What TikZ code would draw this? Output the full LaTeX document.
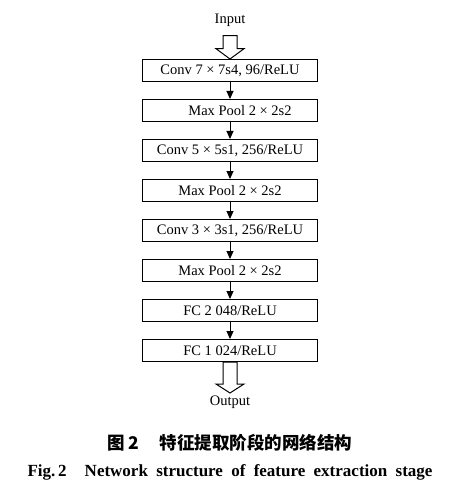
\documentclass[tikz,border=0pt]{standalone}
\usepackage{fontspec}
\setmainfont{Liberation Serif}
\newfontfamily\cjk{Noto Sans CJK SC}
\usetikzlibrary{arrows.meta,calc}
\tikzset{
  layer/.style={draw=black,line width=1pt,minimum width=175.4pt,minimum height=22pt,inner sep=0pt,font=\fontsize{14.5}{16}\selectfont},
  flow/.style={line width=1pt,-{Triangle[length=8pt,width=7pt]}},
  hollow/.style={draw=black,line width=1pt,fill=white,line join=miter},
  lbl/.style={inner sep=0pt,font=\fontsize{14.5}{16}\selectfont}
}
\begin{document}
\begin{tikzpicture}[x=1pt,y=-1pt]
\useasboundingbox (0,0) rectangle (467,497);
\node[lbl] (in) at (230,20) {Input};
\node[layer] (b1) at (230,70.5) {Conv 7 × 7s4, 96/ReLU};
\node[layer] (b2) at (230,110.5) {\hspace*{20pt}Max Pool 2 × 2s2};
\node[layer] (b3) at (230,150.5) {Conv 5 × 5s1, 256/ReLU};
\node[layer] (b4) at (230,190.5) {Max Pool 2 × 2s2};
\node[layer] (b5) at (230,230.5) {Conv 3 × 3s1, 256/ReLU};
\node[layer] (b6) at (230,270.5) {Max Pool 2 × 2s2};
\node[layer] (b7) at (230,310.5) {FC 2 048/ReLU};
\node[layer] (b8) at (230,350.5) {FC 1 024/ReLU};
\node[lbl] (out) at (230,402) {Output};
\foreach \a/\b in {b1/b2,b2/b3,b3/b4,b4/b5,b5/b6,b6/b7,b7/b8}
  \draw[flow] (\a.south) -- (\b.north);
% hollow input arrow
\draw[hollow] ($(b1.north)+(-7,-23.3)$) -- ($(b1.north)+(7,-23.3)$) -- ($(b1.north)+(7,-10.3)$) -- ($(b1.north)+(14,-10.3)$) -- (b1.north) -- ($(b1.north)+(-14,-10.3)$) -- ($(b1.north)+(-7,-10.3)$) -- cycle;
% hollow output arrow
\draw[hollow] ($(b8.south)+(-7,0)$) -- ($(b8.south)+(7,0)$) -- ($(b8.south)+(7,22)$) -- ($(b8.south)+(14,22)$) -- ($(b8.south)+(0,31)$) -- ($(b8.south)+(-14,22)$) -- ($(b8.south)+(-7,22)$) -- cycle;
\node[inner sep=0pt,font=\cjk\bfseries\fontsize{17.5}{19}\selectfont] (cap1) at (230,443) {图\,2\hspace{1.2em}特征提取阶段的网络结构};
\node[inner sep=0pt,font=\bfseries\fontsize{17}{19}\selectfont] (cap2) at (230,472) {\spaceskip=8.3pt Fig.\,2\hspace{18pt}Network structure of feature extraction stage};
\end{tikzpicture}
\end{document}
